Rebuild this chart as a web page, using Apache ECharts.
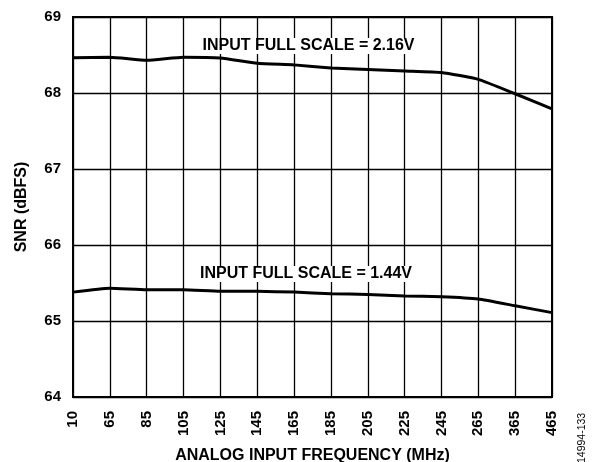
<!DOCTYPE html>
<html>
<head>
<meta charset="utf-8">
<script src="https://cdn.jsdelivr.net/npm/echarts@6/dist/echarts.min.js"></script>
<style>
html,body{margin:0;padding:0;background:#fff;}
#chart{width:597px;height:462px;}
</style>
</head>
<body>
<div id="chart"></div>
<script>
var categories = ['10','65','85','105','125','145','165','185','205','225','245','265','365','465'];
var snr216 = [68.465, 68.47, 68.43, 68.47, 68.46, 68.39, 68.37, 68.33, 68.31, 68.29, 68.27, 68.18, 67.99, 67.79];
var snr144 = [65.38, 65.43, 65.41, 65.41, 65.39, 65.39, 65.38, 65.36, 65.35, 65.33, 65.32, 65.29, 65.20, 65.11];
var yTicks = [64, 65, 66, 67, 68, 69];
var label216 = 'INPUT FULL SCALE = 2.16V';
var label144 = 'INPUT FULL SCALE = 1.44V';
var xTitle = 'ANALOG INPUT FREQUENCY (MHz)';
var yTitle = 'SNR (dBFS)';
var figId = '14994-133';

var font = 'Arial, "Liberation Sans", Helvetica, sans-serif';
var chart = echarts.init(document.getElementById('chart'), null, {renderer: 'canvas'});
var option = {
  animation: false,
  backgroundColor: '#fff',
  grid: {left: 73, right: 45, top: 17, bottom: 65, containLabel: false, outerBoundsMode: 'none', show: true, borderColor: '#000', borderWidth: 2, backgroundColor: 'transparent'},
  xAxis: {
    type: 'category',
    data: categories,
    boundaryGap: false,
    name: xTitle,
    nameLocation: 'middle',
    nameGap: 51,
    nameTextStyle: {fontFamily: font, fontWeight: 'bold', fontSize: 16, color: '#000', verticalAlign: 'top'},
    axisLine: {show: true, lineStyle: {color: '#000', width: 2}},
    axisTick: {show: false},
    axisLabel: {rotate: 90, margin: 14, interval: 0, fontFamily: font, fontWeight: 'bold', fontSize: 15, color: '#000'},
    splitLine: {show: true, interval: 0, lineStyle: {color: '#000', width: 1.3}}
  },
  yAxis: {
    type: 'value',
    min: yTicks[0],
    max: yTicks[yTicks.length - 1],
    interval: 1,
    name: yTitle,
    nameLocation: 'middle',
    nameGap: 43,
    nameRotate: 90,
    nameTextStyle: {fontFamily: font, fontWeight: 'bold', fontSize: 16, color: '#000'},
    axisLine: {show: true, lineStyle: {color: '#000', width: 2}},
    axisTick: {show: false},
    axisLabel: {margin: 12, fontFamily: font, fontWeight: 'bold', fontSize: 15, color: '#000'},
    splitLine: {show: true, lineStyle: {color: '#000', width: 1.3}}
  },
  series: [
    {type: 'line', data: snr216, symbol: 'none', smooth: 0.15, lineStyle: {color: '#000', width: 3}, z: 3},
    {type: 'line', data: snr144, symbol: 'none', smooth: 0.15, lineStyle: {color: '#000', width: 3}, z: 3}
  ],
  graphic: [
    {type: 'text', x: 308.5, y: 46, z: 10, style: {text: label216, font: 'bold 16px ' + font, fill: '#000', backgroundColor: '#fff', padding: [0, 2], textAlign: 'center', textVerticalAlign: 'middle'}},
    {type: 'text', x: 306, y: 274, z: 10, style: {text: label144, font: 'bold 16px ' + font, fill: '#000', backgroundColor: '#fff', padding: [0, 2], textAlign: 'center', textVerticalAlign: 'middle'}},
    {type: 'text', rotation: Math.PI / 2, x: 577, y: 463, z: 10, style: {text: figId, font: '10.5px ' + font, fill: '#000', textAlign: 'left', textVerticalAlign: 'top'}}
  ]
};
chart.setOption(option);
</script>
</body>
</html>
